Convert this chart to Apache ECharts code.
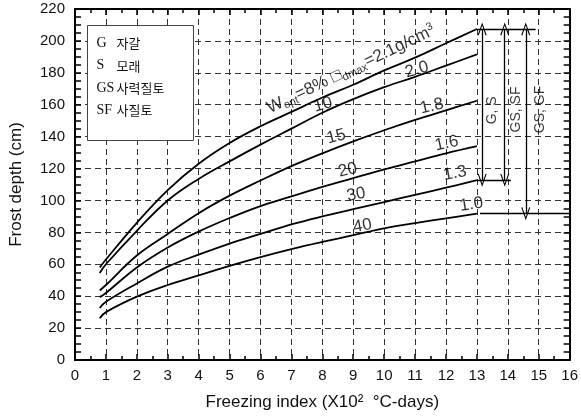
<!DOCTYPE html>
<html>
<head>
<meta charset="utf-8">
<script src="https://cdn.jsdelivr.net/npm/echarts@6/dist/echarts.min.js"></script>
<style>
  html, body { margin: 0; padding: 0; background: #fff; }
  #frost { width: 581px; height: 416px; }
</style>
</head>
<body>
<div id="frost"></div>
<script>
// freezing index (x10^2 C-days)
var xIndex = [0.8, 1, 2, 3, 4, 5, 6, 7, 8, 9, 10, 11, 12, 13]
// frost depth (cm) per curve
var depthW8  = [58, 63, 86, 106.5, 123, 136, 146.5, 155.5, 164.5, 172.5, 181.5, 189.5, 198.5, 207.5]
var depthW10 = [54.5, 60, 81, 100, 113.5, 124.5, 135, 145, 155, 163.5, 171, 177.5, 184.5, 191.5]
var depthW15 = [43.6, 47, 65.5, 79, 92, 103, 112.5, 121.5, 129.5, 137, 144, 150.5, 156.5, 162.5]
var depthW20 = [39.4, 42, 58, 70.5, 80.5, 89, 96.5, 102.5, 108.5, 114, 119.5, 124.5, 129.5, 134]
var depthW30 = [32.6, 36.5, 48, 58.5, 66, 73, 79, 85, 90, 94.5, 99, 103.5, 108, 112.7]
var depthW40 = [26.2, 30, 39.7, 47, 53, 59, 64.5, 69.5, 74, 78.2, 82.5, 85.8, 88.8, 91.7]

// curve labels: text, x, y
var curveLabels = ['10', '15', '20', '30', '40', '2.0', '1.8', '1.6', '1.3', '1.0']
var curveLabelX = [8.02, 8.45, 8.82, 9.09, 9.3, 11.06, 11.54, 12.02, 12.29, 12.82]
var curveLabelY = [160, 140, 119, 103.6, 84, 182, 159, 135.7, 117, 97.4]
var curveLabelRot = [16, 15, 13, 11, 10, 16, 13, 12, 10, 9]

// range brackets on the right
var rangeTop = 207.5
var arrowX = [13.17, 13.9, 14.58]
var arrowBottom = [112.7, 112.7, 91.7]
var rangeNames = ['G, S', 'GS, SF', 'GS, GF']
var rangeNameX = [13.49, 14.27, 15.05]
var rangeNameY = [156.5, 157, 157]
var hLineFrom = [13.0, 13.0, 13.1]
var hLineTo = [14.9, 14.1, 16]
var hLineY = [207.5, 112.7, 91.7]

var legendAbbr = ['G', 'S', 'GS', 'SF']
var legendKor = ['자갈', '모래', '사력질토', '사질토']

function pairs(ys) {
  return xIndex.map(function (x, i) { return [x, ys[i]] })
}

var myChart = echarts.init(document.getElementById('frost'))

var curveStyle = { color: '#000', width: 1.8 }
var curves = [depthW8, depthW10, depthW15, depthW20, depthW30, depthW40].map(function (d) {
  return {
    type: 'line',
    data: pairs(d),
    smooth: 0.4,
    showSymbol: false,
    lineStyle: curveStyle,
    silent: true
  }
})

var chevron = 'path://M0,0 L6,12 L4.6,12.4 L0,3 L-4.6,12.4 L-6,12 Z'

var markData = []
arrowX.forEach(function (x, i) {
  markData.push([{ coord: [x, rangeTop], symbol: chevron }, { coord: [x, arrowBottom[i]], symbol: chevron }])
})
hLineY.forEach(function (y, i) {
  markData.push([{ coord: [hLineFrom[i], y], symbol: 'none' }, { coord: [hLineTo[i], y], symbol: 'none' }])
})

var gridLine = { show: true, lineStyle: { color: '#333', type: [6, 4], width: 1 } }
var fontSans = 'Liberation Sans, Arial'
var axisText = { color: '#111', fontSize: 15, fontFamily: fontSans }

var option = {
  backgroundColor: '#fff',
  animation: false,
  grid: { left: 71, right: 10, top: 9, bottom: 52 },
  xAxis: [
    {
      type: 'value', min: 0, max: 16, interval: 1,
      name: 'Freezing index (X10²  °C-days)',
      nameLocation: 'middle', nameGap: 34,
      nameTextStyle: { color: '#111', fontSize: 17, fontFamily: fontSans },
      axisLine: { show: true, onZero: false, lineStyle: { color: '#000', width: 2 } },
      axisTick: { show: true, inside: true, length: 6, lineStyle: { color: '#000', width: 1.5 } },
      minorTick: { show: true, splitNumber: 2, length: 4, lineStyle: { color: '#000', width: 1.5 } },
      axisLabel: Object.assign({ margin: 8 }, axisText),
      splitLine: gridLine
    },
    {
      type: 'value', min: 0, max: 16, interval: 1, position: 'top',
      axisLine: { show: true, onZero: false, lineStyle: { color: '#000', width: 2 } },
      axisTick: { show: true, inside: true, length: 6, lineStyle: { color: '#000', width: 1.5 } },
      minorTick: { show: true, splitNumber: 2, length: 4, lineStyle: { color: '#000', width: 1.5 } },
      axisLabel: { show: false },
      splitLine: { show: false }
    }
  ],
  yAxis: [
    {
      type: 'value', min: 0, max: 220, interval: 20,
      name: 'Frost depth (cm)',
      nameLocation: 'middle', nameGap: 50,
      nameTextStyle: { color: '#111', fontSize: 17, fontFamily: fontSans },
      axisLine: { show: true, onZero: false, lineStyle: { color: '#000', width: 2 } },
      axisTick: { show: true, inside: true, length: 6, lineStyle: { color: '#000', width: 1.5 } },
      minorTick: { show: true, splitNumber: 4, length: 6, lineStyle: { color: '#000', width: 1.5 } },
      axisLabel: Object.assign({ margin: 10 }, axisText),
      splitLine: gridLine
    },
    {
      type: 'value', min: 0, max: 220, interval: 20, position: 'right',
      axisLine: { show: true, onZero: false, lineStyle: { color: '#000', width: 2 } },
      axisTick: { show: true, inside: true, length: 6, lineStyle: { color: '#000', width: 1.5 } },
      minorTick: { show: true, splitNumber: 4, length: 6, lineStyle: { color: '#000', width: 1.5 } },
      axisLabel: { show: false },
      splitLine: { show: false }
    }
  ],
  series: curves.concat([
    {
      // curve numbers
      type: 'scatter',
      symbolSize: 0,
      silent: true,
      data: curveLabels.map(function (t, i) {
        return {
          value: [curveLabelX[i], curveLabelY[i]],
          label: { rotate: curveLabelRot[i] }
        }
      }),
      label: {
        show: true, position: 'inside',
        formatter: function (p) { return curveLabels[p.dataIndex] },
        color: '#000', fontSize: 17, fontFamily: fontSans
      }
    },
    {
      // Wopt / max density caption
      type: 'scatter',
      symbolSize: 0,
      silent: true,
      data: [[8.93, 182.2]],
      label: {
        show: true, position: 'inside', rotate: 25.5,
        formatter: '{m|W}{sub|opt}{m|=8% □}{sub|dmax}{m|=2.1g/cm}{sup|3}',
        rich: {
          m: { fontSize: 17, lineHeight: 20, color: '#000', fontFamily: fontSans },
          sub: { fontSize: 11, lineHeight: 11, verticalAlign: 'bottom', color: '#000', fontFamily: fontSans },
          sup: { fontSize: 11, lineHeight: 11, verticalAlign: 'top', color: '#000', fontFamily: fontSans }
        }
      }
    },
    {
      // soil group names beside brackets
      type: 'scatter',
      symbolSize: 0,
      silent: true,
      data: rangeNames.map(function (t, i) { return [rangeNameX[i], rangeNameY[i]] }),
      label: {
        show: true, position: 'inside', rotate: 90,
        formatter: function (p) { return rangeNames[p.dataIndex] },
        color: '#000', fontSize: 14, fontFamily: fontSans
      }
    },
    {
      type: 'line',
      data: [],
      silent: true,
      markLine: {
        silent: true,
        animation: false,
        symbolSize: [9, 13],
        label: { show: false },
        lineStyle: { color: '#000', type: 'solid', width: 1.3 },
        emphasis: { disabled: true },
        data: markData
      }
    }
  ]),
  graphic: [
    {
      type: 'group',
      left: 87, top: 25,
      z: 100,
      children: [
        { type: 'rect', z: 100, shape: { x: 0, y: 0, width: 106, height: 115 }, style: { fill: '#fff', stroke: '#444', lineWidth: 1 } }
      ].concat(legendAbbr.map(function (a, i) {
        return { type: 'text', z: 101, x: 9, y: 18 + i * 22.3, style: { text: a, fill: '#111', font: '14px "Liberation Serif", serif', verticalAlign: 'middle' } }
      })).concat(legendKor.map(function (k, i) {
        return { type: 'text', z: 101, x: 29, y: 18 + i * 22.3, style: { text: k, fill: '#111', font: '13px "Noto Sans CJK KR", sans-serif', verticalAlign: 'middle' } }
      }))
    }
  ]
}

myChart.setOption(option)
</script>
</body>
</html>
